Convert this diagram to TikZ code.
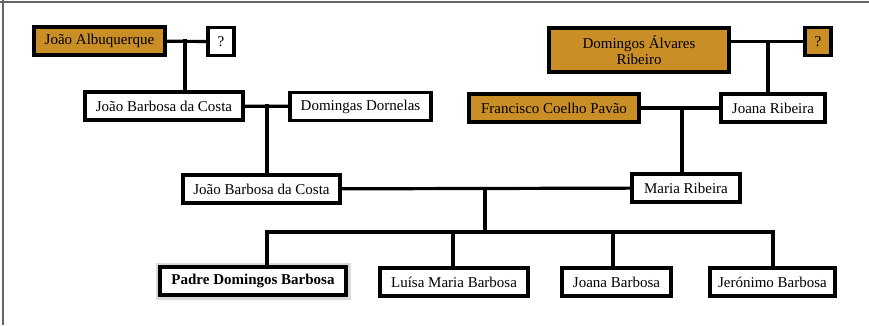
\documentclass[tikz,border=0pt]{standalone}
\usepackage{fontspec}
\setmainfont{Liberation Serif}
\usepackage{tikz}
\usetikzlibrary{positioning}
\definecolor{ochre}{RGB}{202,142,38}

\begin{document}
\begin{tikzpicture}[x=1pt,y=-1pt,
    person/.style={draw=black,line width=3.4pt,fill=white,inner sep=0pt,
        minimum height=28pt,align=center,
        font=\fontsize{15}{16.5}\selectfont},
    elder/.style={person,fill=ochre},
    self/.style={person,line width=4pt,
        font=\fontsize{15}{16.5}\selectfont\bfseries,
        preaction={draw=gray!30,line width=9pt}},
    link/.style={draw=black,line width=3.2pt,line cap=rect}]

    \useasboundingbox (0,0) rectangle (869,325);
    %page frame
    \draw[gray!80!black,line width=2pt] (0,2) -- (869,2);
    \draw[gray!80!black,line width=2pt] (3,0) -- (3,325);

    %paternal side
    \node[elder,minimum width=131pt] (ja) at (99.5,41) {João Albuquerque};
    \node[person,minimum width=26pt] (q1) at (221,41.5) {?};
    \node[person,minimum width=158pt] (jbc1) at (164,106) {João Barbosa da Costa};
    \node[person,minimum width=141pt] (dd) at (360.5,106.5) {Domingas Dornelas};
    \node[person,minimum width=157pt] (jbc2) at (261.5,189) {João Barbosa da Costa};

    %maternal side
    \node[elder,minimum width=180pt,minimum height=44pt] (dar) at (639,50)
        {Domingos Álvares\\Ribeiro};
    \node[elder,minimum width=26pt] (q2) at (818,41.5) {?};
    \node[elder,minimum width=170pt] (fcp) at (554,108) {Francisco Coelho Pavão};
    \node[person,minimum width=104pt] (jr) at (773,108) {Joana Ribeira};
    \node[person,minimum width=108pt] (mr) at (686,188) {Maria Ribeira};

    %children
    \node[self,minimum width=186pt] (pdb) at (253,281) {Padre Domingos Barbosa};
    \node[person,minimum width=148pt] (lmb) at (454,282) {Luísa Maria Barbosa};
    \node[person,minimum width=109pt] (jb) at (616.5,282) {Joana Barbosa};
    \node[person,minimum width=125pt] (jeb) at (772.5,282) {Jerónimo Barbosa};

    %couples
    \draw[link] (ja) -- (q1);
    \coordinate (c1) at (185,41);
    \draw[link] (c1) -- (c1 |- jbc1.north);

    \draw[link] (jbc1) -- (dd);
    \coordinate (c2) at (267,106);
    \draw[link] (c2) -- (c2 |- jbc2.north);

    \draw[link] (q2.west) -- (q2.west -| dar.east);
    \coordinate (c3) at (768,41.5);
    \draw[link] (c3) -- (c3 |- jr.north);

    \draw[link] (fcp) -- (jr);
    \coordinate (c4) at (682,108);
    \draw[link] (c4) -- (c4 |- mr.north);

    \draw[link] (jbc2) -- (mr);
    \coordinate (c5) at (485,189);

    %drops to the children
    \coordinate (dpdb) at (267,232);
    \coordinate (dlmb) at (453,232);
    \coordinate (djb) at (613,232);
    \coordinate (djeb) at (773,232);
    \draw[link] (c5) -- (c5 |- dpdb);
    \draw[link,line join=miter] (dpdb |- pdb.north) -- (dpdb) -- (djeb) -- (djeb |- jeb.north);
    \draw[link] (dlmb) -- (dlmb |- lmb.north);
    \draw[link] (djb) -- (djb |- jb.north);

\end{tikzpicture}
\end{document}
